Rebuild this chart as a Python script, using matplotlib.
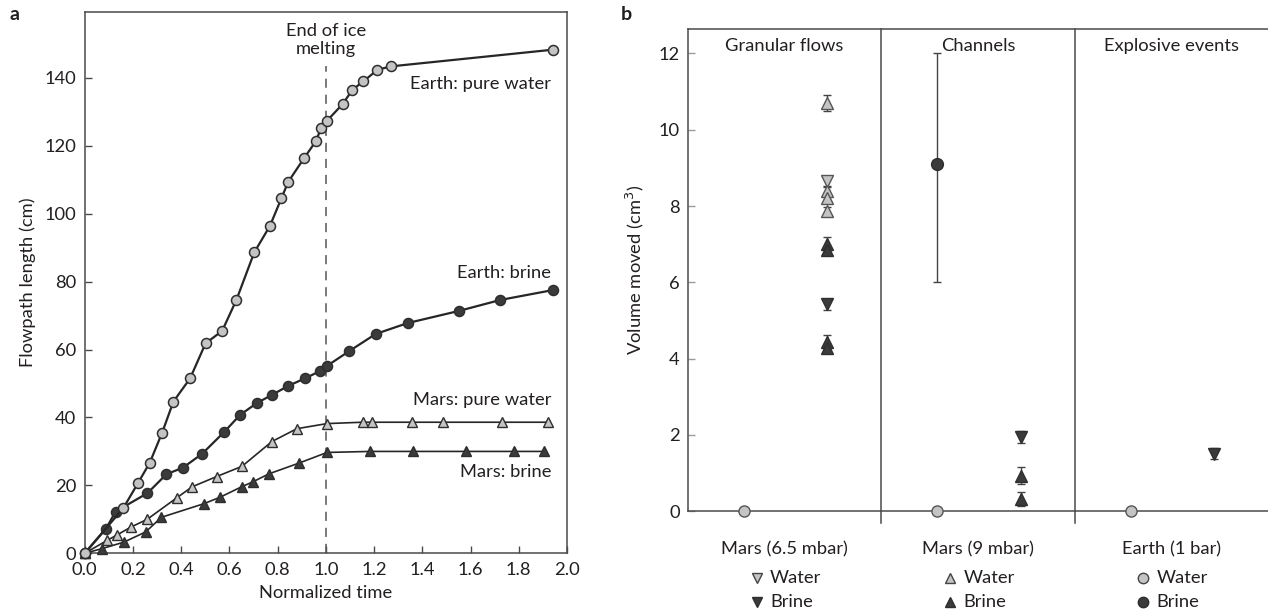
import matplotlib
matplotlib.use("Agg")
import matplotlib.pyplot as plt
from matplotlib.transforms import blended_transform_factory

plt.rcParams["font.family"] = ["Lato", "DejaVu Sans"]
plt.rcParams["text.color"] = "#231f20"
plt.rcParams["axes.labelcolor"] = "#231f20"

# ---------------------------------------------------------------------------
# Panel a: flowpath length against normalized time
# ---------------------------------------------------------------------------
earth_water_t = [0, 0.16, 0.222, 0.27, 0.321, 0.368, 0.437, 0.501, 0.570, 0.629,
                 0.703, 0.768, 0.816, 0.844, 0.910, 0.958, 0.981, 1.005, 1.071,
                 1.110, 1.156, 1.214, 1.270, 1.940]
earth_water_len = [0, 13.3, 20.8, 26.7, 35.5, 44.7, 51.5, 61.8, 65.5, 74.6,
                   88.6, 96.4, 104.6, 109.4, 116.4, 121.3, 125.3, 127.4, 132.4,
                   136.5, 139.0, 142.4, 143.4, 148.3]

earth_brine_t = [0, 0.089, 0.128, 0.260, 0.339, 0.407, 0.487, 0.578, 0.645, 0.715,
                 0.778, 0.844, 0.913, 0.977, 1.005, 1.098, 1.207, 1.339, 1.553,
                 1.723, 1.940]
earth_brine_len = [0, 7.3, 12.3, 17.7, 23.3, 25.2, 29.3, 35.7, 40.8, 44.3,
                   46.7, 49.3, 51.5, 53.7, 55.2, 59.6, 64.6, 67.8, 71.4,
                   74.6, 77.5]

mars_water_t = [0, 0.093, 0.134, 0.191, 0.259, 0.383, 0.446, 0.547, 0.652, 0.776,
                0.880, 1.005, 1.152, 1.193, 1.359, 1.485, 1.731, 1.922]
mars_water_len = [0, 3.8, 5.4, 7.7, 10.0, 16.4, 19.6, 22.6, 25.6, 32.9,
                  36.7, 38.2, 38.6, 38.6, 38.6, 38.6, 38.6, 38.6]

mars_brine_t = [0, 0.073, 0.163, 0.253, 0.318, 0.494, 0.561, 0.651, 0.696, 0.764,
                0.890, 1.005, 1.184, 1.362, 1.581, 1.782, 1.905]
mars_brine_len = [0, 1.4, 3.3, 6.3, 10.6, 14.6, 16.5, 19.6, 21.0, 23.4,
                  26.6, 29.7, 30.0, 30.0, 30.0, 30.0, 30.0]

ice_melt_end = 1.0

# ---------------------------------------------------------------------------
# Panel b: volume moved per process, grouped by column
# ---------------------------------------------------------------------------
processes = ["Granular flows", "Channels", "Explosive events"]
conditions = ["Mars (6.5 mbar)", "Mars (9 mbar)", "Earth (1 bar)"]

# column index, volume (cm^3), error (cm^3)
water_65_col = [0]
water_65_vol = [8.65]
water_65_err = [0.12]

brine_65_col = [0, 1, 2]
brine_65_vol = [5.42, 1.95, 1.51]
brine_65_err = [0.15, 0.15, 0.15]

water_9_col = [0, 0, 0, 0]
water_9_vol = [10.70, 8.40, 8.22, 7.88]
water_9_err = [0.22, 0.10, 0.10, 0.10]

brine_9_col = [0, 0, 0, 0, 1, 1]
brine_9_vol = [7.0, 6.85, 4.44, 4.28, 0.93, 0.33]
brine_9_err = [0.20, 0.10, 0.18, 0.10, 0.22, 0.18]

water_earth_col = [0, 1, 2]
water_earth_vol = [0, 0, 0]

brine_earth_col = [1]
brine_earth_vol = [9.1]
brine_earth_err_low = [3.1]
brine_earth_err_high = [2.9]

LIGHT = "#c4c4c4"
DARK = "#3b3b3b"
EDGE = "#2e2e2e"
LINE = "#262626"
AXIS = "#4a4a4a"
FS = 13.2

W, H = 1268, 614
fig = plt.figure(figsize=(W / 100, H / 100), dpi=100)


def frac(x0, y0, x1, y1):
    """Pixel box (left, top, right, bottom) -> figure fraction rect."""
    return [x0 / W, 1 - y1 / H, (x1 - x0) / W, (y1 - y0) / H]


# ---- panel a ----
ax = fig.add_axes(frac(84.7, 11.7, 567, 553.3))
mk_c = dict(markersize=7.2, markeredgewidth=1.1, markeredgecolor=EDGE, clip_on=False)
mk_t = dict(markersize=7.0, markeredgewidth=1.0, markeredgecolor=EDGE, clip_on=False)
ax.plot(mars_brine_t, mars_brine_len, "-^", color=LINE, lw=1.2,
        markerfacecolor=DARK, zorder=3, **mk_t)
ax.plot(mars_water_t, mars_water_len, "-^", color=LINE, lw=1.2,
        markerfacecolor=LIGHT, zorder=3, **mk_t)
ax.plot(earth_brine_t, earth_brine_len, "-o", color=LINE, lw=1.6,
        markerfacecolor=DARK, zorder=4, **mk_c)
ax.plot(earth_water_t, earth_water_len, "-o", color=LINE, lw=1.6,
        markerfacecolor=LIGHT, zorder=4, **mk_c)
ax.vlines(ice_melt_end, 0, 143.5, colors="#555555", lw=1.1,
          linestyles=(0, (6, 4.5)), zorder=2)

ax.set_xlim(0, 2.0)
ax.set_ylim(0, 159.5)
ax.set_xticks([0.0, 0.2, 0.4, 0.6, 0.8, 1.0, 1.2, 1.4, 1.6, 1.8, 2.0])
ax.set_yticks(range(0, 141, 20))
ax.tick_params(direction="in", length=5, width=1, color=AXIS,
               labelsize=FS, labelcolor="#231f20", pad=6)
for s in ax.spines.values():
    s.set_color(AXIS)
    s.set_linewidth(1.1)
ax.set_xlabel("Normalized time", fontsize=FS, labelpad=5)
ax.set_ylabel("Flowpath length (cm)", fontsize=FS, labelpad=6)

ax.text(ice_melt_end, 151.2, "End of ice\nmelting", ha="center", va="center",
        fontsize=FS, linespacing=1.2)
lbl = dict(ha="right", va="center", fontsize=FS)
ax.text(1.935, 138.3, "Earth: pure water", **lbl)
ax.text(1.935, 82.5, "Earth: brine", **lbl)
ax.text(1.935, 45.1, "Mars: pure water", **lbl)
ax.text(1.935, 24.0, "Mars: brine", **lbl)

fig.text(15 / W, 1 - 15 / H, "a", fontsize=14, fontweight="bold",
         ha="center", va="center")

# ---- panel b ----
bx = fig.add_axes(frac(688, 29, 1268, 511.3))
bx.set_xlim(0, 3)
bx.set_ylim(0, 12.64)
bx.set_yticks(range(0, 13, 2))
bx.set_xticks([])
bx.tick_params(axis="y", direction="in", length=5, width=1, color="#9a9a9a",
               labelsize=FS, labelcolor="#231f20", pad=6)
bx.spines["right"].set_visible(False)
for name in ("left", "top", "bottom"):
    bx.spines[name].set_color(AXIS)
    bx.spines[name].set_linewidth(1.1)
bx.set_ylabel("Volume moved (cm$^3$)", fontsize=FS, labelpad=9)

for xd in (1, 2):
    bx.plot([xd, xd], [-0.31, 12.64], color=AXIS, lw=1.1, clip_on=False, zorder=1)

off_circle = 0.29
off_tri = 0.72
eb = dict(ecolor="#444444", elinewidth=1.0, capsize=3, capthick=1.0,
          linestyle="none", clip_on=False, zorder=4)
tri = dict(markersize=8.0, markeredgewidth=1.0)

bx.errorbar([c + off_tri for c in water_65_col], water_65_vol, yerr=water_65_err,
            marker="v", markerfacecolor=LIGHT, markeredgecolor="#555555", **tri, **eb)
bx.errorbar([c + off_tri for c in water_9_col], water_9_vol, yerr=water_9_err,
            marker="^", markerfacecolor=LIGHT, markeredgecolor="#555555", **tri, **eb)
bx.errorbar([c + off_tri for c in brine_9_col], brine_9_vol, yerr=brine_9_err,
            marker="^", markerfacecolor=DARK, markeredgecolor=EDGE, **tri, **eb)
bx.errorbar([c + off_tri for c in brine_65_col], brine_65_vol, yerr=brine_65_err,
            marker="v", markerfacecolor=DARK, markeredgecolor=EDGE, **tri, **eb)
bx.errorbar([c + off_circle for c in brine_earth_col], brine_earth_vol,
            yerr=[brine_earth_err_low, brine_earth_err_high],
            marker="o", markersize=8.5, markerfacecolor=DARK, markeredgecolor=EDGE,
            markeredgewidth=1.0, **eb)
bx.plot([c + off_circle for c in water_earth_col], water_earth_vol, "o",
        markersize=8.0, markerfacecolor=LIGHT, markeredgecolor="#555555",
        markeredgewidth=1.0, clip_on=False, zorder=5)

for i, name in enumerate(processes):
    bx.text(i + 0.5, 12.2, name, ha="center", va="center", fontsize=FS)

trans = blended_transform_factory(bx.transData, bx.transAxes)
legend_marks = ("v", "^", "o")
for i, cond in enumerate(conditions):
    bx.text(i + 0.5, -0.078, cond, transform=trans, ha="center", va="center",
            fontsize=FS)
    m = legend_marks[i]
    for row, (face, word) in enumerate(((LIGHT, "Water"), (DARK, "Brine"))):
        y = -0.139 - row * 0.05
        bx.plot([i + 0.355], [y], m, transform=trans, clip_on=False,
                markersize=7 if m != "o" else 7.5, markerfacecolor=face,
                markeredgecolor="#444444" if face == LIGHT else EDGE,
                markeredgewidth=1.0)
        bx.text(i + 0.425, y, word, transform=trans, ha="left", va="center",
                fontsize=FS)

fig.text(626 / W, 1 - 15 / H, "b", fontsize=14, fontweight="bold",
         ha="center", va="center")

fig.savefig("out.png", dpi=100)
